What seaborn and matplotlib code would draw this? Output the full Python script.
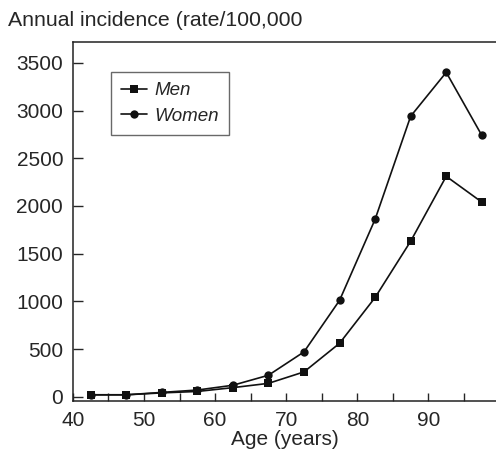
import matplotlib
matplotlib.use("Agg")
import matplotlib.pyplot as plt
import seaborn as sns
import pandas as pd

age = [42.5, 47.5, 52.5, 57.5, 62.5, 67.5, 72.5, 77.5, 82.5, 87.5, 92.5, 97.5]
men = [20, 20, 40, 55, 95, 140, 260, 560, 1040, 1630, 2310, 2040]
women = [20, 20, 45, 70, 120, 225, 470, 1010, 1860, 2940, 3400, 2740]
series = ["Men", "Women"]
x_ticks = [40, 50, 60, 70, 80, 90]
y_ticks = [0, 500, 1000, 1500, 2000, 2500, 3000, 3500]

df = pd.DataFrame({
    "age": age * 2,
    "rate": men + women,
    "sex": [series[0]] * len(age) + [series[1]] * len(age),
})

sns.set_style("ticks")
plt.rcParams["font.family"] = ["Liberation Sans", "DejaVu Sans"]

fig = plt.figure(figsize=(4.96, 4.57), dpi=100)
ax = fig.add_axes([0.147, 0.1215, 0.853, 0.787])

sns.lineplot(data=df, x="age", y="rate", hue="sex", style="sex",
             markers={"Men": "s", "Women": "o"}, dashes=False,
             palette={"Men": "#111111", "Women": "#111111"},
             markersize=6, linewidth=1.2, markeredgewidth=0, ax=ax)

ax.set_xlim(40, 99.5)
ax.set_ylim(-50, 3720)
ax.set_xticks(x_ticks)
ax.set_xticks([45, 55, 65, 75, 85, 95], minor=True)
ax.set_yticks(y_ticks)
ax.tick_params(axis="x", direction="in", length=6, width=1, labelsize=15, pad=7)
ax.tick_params(axis="x", which="minor", direction="in", length=6, width=1)
ax.tick_params(axis="y", direction="in", length=7, width=1, labelsize=15, pad=7)
for s in ["left", "bottom", "top"]:
    ax.spines[s].set_linewidth(1.1)
    ax.spines[s].set_color("#222222")
ax.spines["right"].set_visible(False)

ax.set_xlabel("Age (years)", fontsize=15, labelpad=0)
ax.set_ylabel("")
fig.text(0.016, 0.956, "Annual incidence (rate/100,000", fontsize=15.3, ha="left", va="center")

leg = ax.legend(loc="upper left", bbox_to_anchor=(0.09, 0.916), frameon=True,
                fancybox=False, edgecolor="#444444", handlelength=1.35,
                handletextpad=0.4, borderpad=0.55, labelspacing=0.45,
                borderaxespad=0,
                prop={"size": 13.5, "style": "italic"})
leg.get_frame().set_linewidth(1.0)

fig.savefig("out.png", dpi=100)
